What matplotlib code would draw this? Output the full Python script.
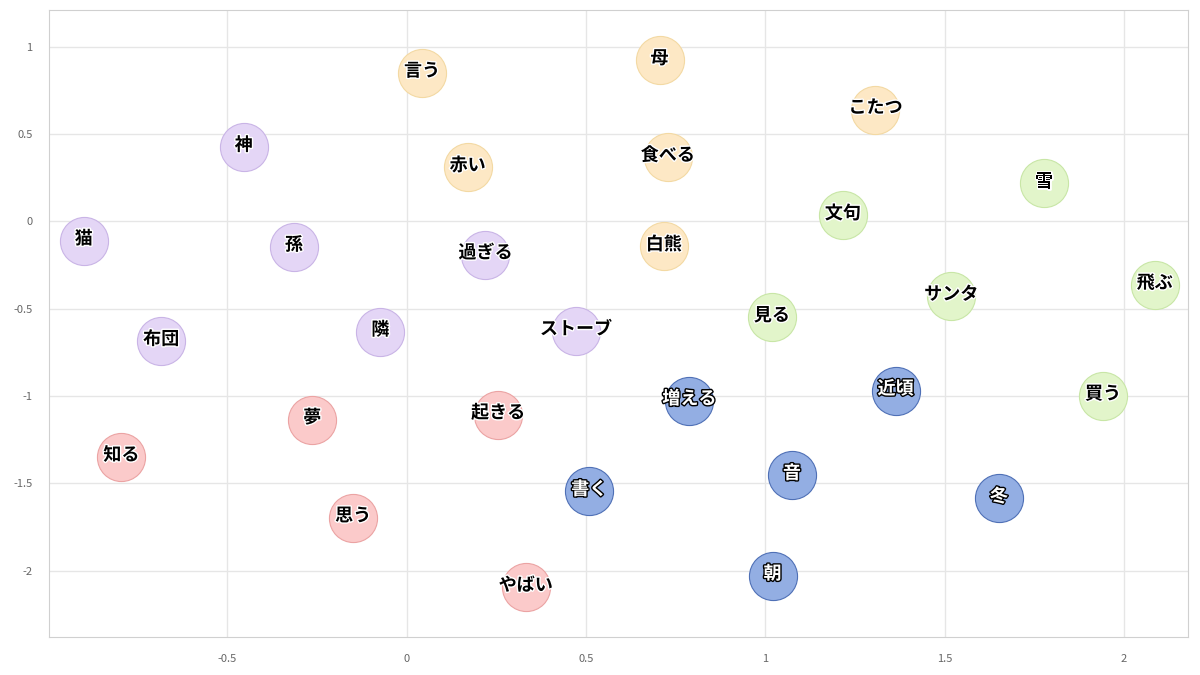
import matplotlib
matplotlib.use("Agg")
import matplotlib.pyplot as plt
import matplotlib.patheffects as pe

plt.rcParams['font.family'] = ['Noto Sans CJK JP', 'DejaVu Sans']

# --- данные: слова по группам ---
purple_words = ['猫', '神', '孫', '布団', '隣', '過ぎる', 'ストーブ']
purple_x = [-0.90, -0.454, -0.314, -0.684, -0.073, 0.220, 0.472]
purple_y = [-0.111, 0.425, -0.146, -0.686, -0.632, -0.191, -0.628]

orange_words = ['言う', '母', 'こたつ', '赤い', '食べる', '白熊']
orange_x = [0.043, 0.705, 1.307, 0.170, 0.728, 0.717]
orange_y = [0.850, 0.922, 0.640, 0.309, 0.367, -0.144]

green_words = ['雪', '文句', 'サンタ', '飛ぶ', '見る', '買う']
green_x = [1.777, 1.216, 1.518, 2.085, 1.018, 1.941]
green_y = [0.217, 0.034, -0.429, -0.364, -0.550, -0.999]

blue_words = ['増える', '近頃', '書く', '音', '冬', '朝']
blue_x = [0.788, 1.363, 0.509, 1.074, 1.651, 1.020]
blue_y = [-1.027, -0.970, -1.546, -1.454, -1.587, -2.029]

red_words = ['知る', '夢', '起きる', '思う', 'やばい']
red_x = [-0.795, -0.263, 0.255, -0.149, 0.332]
red_y = [-1.349, -1.135, -1.107, -1.697, -2.095]

# (слова, x, y, заливка, обводка, цвет текста, обводка текста)
groups = [
    (purple_words, purple_x, purple_y, '#e4d6f6', '#c9b4e6', 'black', 'white'),
    (orange_words, orange_x, orange_y, '#fde8c5', '#f3d9a3', 'black', 'white'),
    (green_words, green_x, green_y, '#e2f5ca', '#c8e6a6', 'black', 'white'),
    (blue_words, blue_x, blue_y, '#93aee3', '#4f70b6', 'white', 'black'),
    (red_words, red_x, red_y, '#fbcaca', '#eba3a3', 'black', 'white'),
]

fig = plt.figure(figsize=(12, 6.75), dpi=100)
ax = fig.add_axes([0.041, 0.0563, 0.949, 0.9289])

for words, xs, ys, fc, ec, tc, oc in groups:
    ax.scatter(xs, ys, s=1200, c=fc, edgecolors=ec, linewidths=0.8, zorder=3)
    for w, x, y in zip(words, xs, ys):
        ax.annotate(w, (x, y), xytext=(0, 1.5), textcoords='offset points',
                    ha='center', va='center', fontsize=13, fontweight='bold',
                    color=tc, zorder=4,
                    path_effects=[pe.withStroke(linewidth=2, foreground=oc)])

ax.set_xlim(-0.996, 2.178)
ax.set_ylim(-2.38, 1.21)
ax.set_xticks([-0.5, 0, 0.5, 1, 1.5, 2])
ax.set_xticklabels(['-0.5', '0', '0.5', '1', '1.5', '2'])
ax.set_yticks([-2, -1.5, -1, -0.5, 0, 0.5, 1])
ax.set_yticklabels(['-2', '-1.5', '-1', '-0.5', '0', '0.5', '1'])
ax.tick_params(length=0, labelsize=8, labelcolor='#666666', pad=12)
ax.grid(True, color='#e6e6e6', linewidth=1)
ax.set_axisbelow(True)
for sp in ax.spines.values():
    sp.set_color('#d0d0d0')

fig.savefig('out.png', dpi=100)
